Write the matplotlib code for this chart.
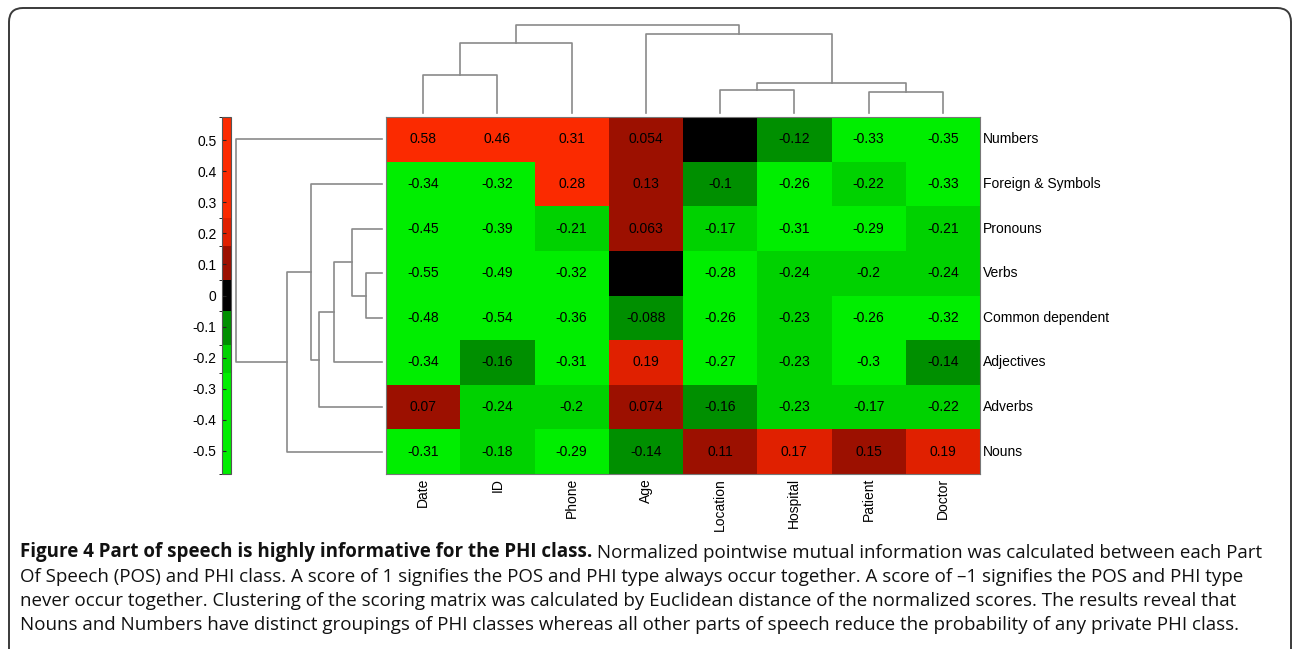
import numpy as np
import matplotlib
matplotlib.use("Agg")
import matplotlib.pyplot as plt
from matplotlib.colors import ListedColormap, BoundaryNorm
from matplotlib.patches import FancyBboxPatch

# PHI classes (columns) and parts of speech (rows), in dendrogram leaf order
phi_classes = ["Date", "ID", "Phone", "Age", "Location", "Hospital", "Patient", "Doctor"]
pos_tags = ["Numbers", "Foreign & Symbols", "Pronouns", "Verbs",
            "Common dependent", "Adjectives", "Adverbs", "Nouns"]

# normalized PMI scores, one row per part of speech
npmi_numbers = [0.58, 0.46, 0.31, 0.054, 0.0, -0.12, -0.33, -0.35]
npmi_foreign = [-0.34, -0.32, 0.28, 0.13, -0.1, -0.26, -0.22, -0.33]
npmi_pronouns = [-0.45, -0.39, -0.21, 0.063, -0.17, -0.31, -0.29, -0.21]
npmi_verbs = [-0.55, -0.49, -0.32, 0.0, -0.28, -0.24, -0.2, -0.24]
npmi_common = [-0.48, -0.54, -0.36, -0.088, -0.26, -0.23, -0.26, -0.32]
npmi_adjectives = [-0.34, -0.16, -0.31, 0.19, -0.27, -0.23, -0.3, -0.14]
npmi_adverbs = [0.07, -0.24, -0.2, 0.074, -0.16, -0.23, -0.17, -0.22]
npmi_nouns = [-0.31, -0.18, -0.29, -0.14, 0.11, 0.17, 0.15, 0.19]

# merges as (child a, child b, distance); new clusters numbered from n upward
row_links = [(3, 4, 0.16), (2, 8, 0.30), (9, 5, 0.48), (10, 6, 0.63),
             (1, 11, 0.71), (12, 7, 0.95), (0, 13, 1.46)]
col_links = [(0, 1, 0.38), (8, 2, 0.70), (4, 5, 0.23), (6, 7, 0.21),
             (10, 11, 0.30), (3, 12, 0.79), (9, 13, 0.88)]

level_edges = [-0.575, -0.25, -0.16, -0.05, 0.05, 0.16, 0.25, 0.575]
level_colors = ["#00ee00", "#00d200", "#008f00", "#000000",
                "#9c1000", "#e02000", "#fb2a00"]
cbar_ticks = [0.5, 0.4, 0.3, 0.2, 0.1, 0, -0.1, -0.2, -0.3, -0.4, -0.5]

caption_bold = "Figure 4 Part of speech is highly informative for the PHI class."
caption_lines = [
    " Normalized pointwise mutual information was calculated between each Part",
    "Of Speech (POS) and PHI class. A score of 1 signifies the POS and PHI type always occur together. A score of \u20131 signifies the POS and PHI type",
    "never occur together. Clustering of the scoring matrix was calculated by Euclidean distance of the normalized scores. The results reveal that",
    "Nouns and Numbers have distinct groupings of PHI classes whereas all other parts of speech reduce the probability of any private PHI class.",
]

npmi = np.array([npmi_numbers, npmi_foreign, npmi_pronouns, npmi_verbs,
                 npmi_common, npmi_adjectives, npmi_adverbs, npmi_nouns])

plt.rcParams["font.family"] = ["Liberation Sans", "DejaVu Sans"]

W, H = 1292, 649
fig = plt.figure(figsize=(W / 100, H / 100), dpi=100)


def px(left, top, width, height):
    return [left / W, 1 - (top + height) / H, width / W, height / H]


# page-like background with the rounded frame and caption
bg = fig.add_axes([0, 0, 1, 1], zorder=0)
bg.set_xlim(0, W)
bg.set_ylim(H, 0)
bg.axis("off")
bg.add_patch(FancyBboxPatch((9, 8), 1282, 660, boxstyle="round,pad=0,rounding_size=14",
                            fc="white", ec="#3a3a3a", lw=1.4))

cap_font = dict(family=["Open Sans", "DejaVu Sans"], fontsize=13.5, color="#111111")
t = bg.text(20, 557, caption_bold, fontweight="bold", va="baseline", **cap_font)
bg.annotate(caption_lines[0], xy=(1, 0), xycoords=t, va="bottom", ha="left", **cap_font)
for k, line in enumerate(caption_lines[1:]):
    bg.text(20, 581.5 + 24.5 * k, line, va="baseline", **cap_font)

# heatmap
cmap = ListedColormap(level_colors).with_extremes(over=level_colors[-1], under=level_colors[0])
norm = BoundaryNorm(level_edges, cmap.N)

ax = fig.add_axes(px(386, 117, 594, 357))
im = ax.pcolormesh(npmi, cmap=cmap, norm=norm)
ax.set_xlim(0, len(phi_classes))
ax.set_ylim(len(pos_tags), 0)
ax.set_xticks([])
ax.set_yticks([])
for s in ax.spines.values():
    s.set_color("#777777")
    s.set_linewidth(0.8)

for i in range(len(pos_tags)):
    for j in range(len(phi_classes)):
        v = npmi[i, j]
        if v != 0:
            ax.text(j + 0.5, i + 0.5, f"{v:g}", ha="center", va="center", fontsize=10)

for i, name in enumerate(pos_tags):
    ax.text(8.04, i + 0.5, name, ha="left", va="center", fontsize=10)
for j, name in enumerate(phi_classes):
    ax.text(j + 0.5, 8.09, name, ha="center", va="top", rotation=90, fontsize=10)


def draw_dendrogram(dax, links, n, orient):
    pos = {i: i + 0.5 for i in range(n)}
    hgt = {i: 0.0 for i in range(n)}
    for k, (a, b, d) in enumerate(links):
        xs = [pos[a], pos[a], pos[b], pos[b]]
        ys = [hgt[a], d, d, hgt[b]]
        if orient == "top":
            dax.plot(xs, ys, color="#8a8a8a", lw=1.2, clip_on=False)
        else:
            dax.plot(ys, xs, color="#8a8a8a", lw=1.2, clip_on=False)
        pos[n + k] = (pos[a] + pos[b]) / 2
        hgt[n + k] = d


# column dendrogram on top
cax_top = fig.add_axes(px(386, 25, 594, 88))
draw_dendrogram(cax_top, col_links, len(phi_classes), "top")
cax_top.set_xlim(0, len(phi_classes))
cax_top.set_ylim(0, col_links[-1][2])
cax_top.axis("off")

# row dendrogram on the left
rax = fig.add_axes(px(236, 117, 146, 357))
draw_dendrogram(rax, row_links, len(pos_tags), "left")
rax.set_xlim(row_links[-1][2], 0)
rax.set_ylim(len(pos_tags), 0)
rax.axis("off")

# colour key
kax = fig.add_axes(px(222, 117, 9, 357))
cb = fig.colorbar(im, cax=kax, spacing="proportional", ticks=cbar_ticks, extend="neither")
kax.yaxis.set_ticks_position("left")
kax.yaxis.set_label_position("left")
kax.set_yticklabels([f"{t:g}" for t in cbar_ticks])
kax.tick_params(axis="y", direction="in", length=3, width=0.8, color="#222222",
                labelsize=10, pad=4)
cb.outline.set_edgecolor("#555555")
cb.outline.set_linewidth(0.8)

fig.savefig("out.png", dpi=100)
